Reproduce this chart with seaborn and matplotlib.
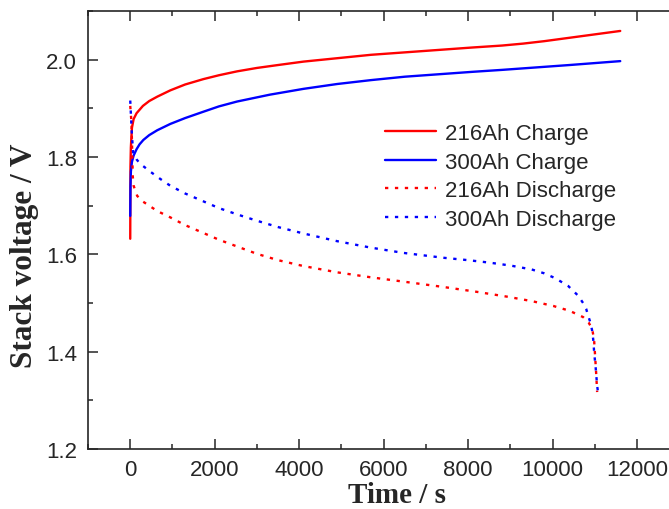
import numpy as np
import pandas as pd
import seaborn as sns
import matplotlib.pyplot as plt
from matplotlib.ticker import MultipleLocator

# values
t_216c = [0, 5, 15, 40, 80, 150, 300, 450, 640, 950, 1300, 1730, 2100, 2530, 3000,
          3500, 4100, 4900, 5700, 6500, 7300, 8100, 8800, 9300, 9800, 10400, 11000, 11600]
v_216c = [1.632, 1.78, 1.82, 1.86, 1.878, 1.890, 1.905, 1.915, 1.924, 1.937, 1.949,
          1.960, 1.968, 1.976, 1.983, 1.989, 1.996, 2.003, 2.010, 2.015, 2.020, 2.025,
          2.029, 2.033, 2.038, 2.045, 2.052, 2.059]

t_300c = [0, 5, 15, 40, 80, 150, 220, 310, 450, 640, 950, 1300, 1730, 2100, 2530,
          3300, 4100, 4900, 5700, 6500, 7300, 8100, 8800, 9600, 10400, 11000, 11600]
v_300c = [1.679, 1.74, 1.77, 1.79, 1.803, 1.816, 1.826, 1.835, 1.845, 1.855, 1.868,
          1.880, 1.893, 1.904, 1.914, 1.928, 1.940, 1.950, 1.958, 1.965, 1.970, 1.975,
          1.979, 1.984, 1.989, 1.993, 1.997]

t_216d = [0, 30, 60, 80, 165, 308, 640, 947, 1300, 1728, 2100, 2533, 3000, 3500,
          4095, 4900, 5680, 6462, 7408, 8200, 8923, 9500, 10012, 10400, 10722, 10850,
          10935, 10980, 11005, 11030, 11053]
v_216d = [1.905, 1.870, 1.760, 1.741, 1.720, 1.708, 1.689, 1.676, 1.660, 1.644, 1.630,
          1.616, 1.601, 1.588, 1.576, 1.563, 1.553, 1.544, 1.533, 1.523, 1.513, 1.504,
          1.494, 1.484, 1.471, 1.460, 1.447, 1.425, 1.391, 1.355, 1.317]

t_300d = [0, 20, 40, 70, 150, 237, 473, 710, 947, 1300, 1728, 2100, 2533, 3000, 3500,
          4095, 4900, 5680, 6462, 7408, 8000, 8500, 9000, 9500, 9800, 10060, 10367,
          10604, 10720, 10793, 10840, 10900, 10935, 10960, 10982, 11020, 11053, 11070]
v_300d = [1.916, 1.880, 1.845, 1.807, 1.795, 1.786, 1.770, 1.755, 1.741, 1.725, 1.709,
          1.695, 1.682, 1.669, 1.656, 1.643, 1.627, 1.614, 1.603, 1.593, 1.588, 1.583,
          1.577, 1.569, 1.561, 1.551, 1.535, 1.515, 1.500, 1.488, 1.474, 1.458, 1.443,
          1.425, 1.399, 1.365, 1.330, 1.319]

labels = ['216Ah Charge', '300Ah Charge', '216Ah Discharge', '300Ah Discharge']

sns.set_style('ticks')
plt.rcParams['font.family'] = ['Liberation Sans', 'DejaVu Sans']

fig = plt.figure(figsize=(6.69, 5.10), dpi=100)
ax = fig.add_axes([88/669, 60/510, 618/669, 438/510])

series = [(t_216c, v_216c, 'red', '-'),
          (t_300c, v_300c, 'blue', '-'),
          (t_216d, v_216d, 'red', (0, (1.4, 2.8))),
          (t_300d, v_300d, 'blue', (0, (1.4, 2.8)))]
for (t, v, c, ls), lab in zip(series, labels):
    df = pd.DataFrame({'t': t, 'v': v})
    sns.lineplot(data=df, x='t', y='v', ax=ax, color=c, linestyle=ls,
                 linewidth=1.7, label=lab, sort=False, estimator=None)

ax.set_xlim(-1000, 13630)
ax.set_ylim(1.2, 2.1)
ax.xaxis.set_minor_locator(MultipleLocator(1000))
ax.yaxis.set_minor_locator(MultipleLocator(0.1))
ax.set_xticks([0, 2000, 4000, 6000, 8000, 10000, 12000])
ax.set_yticks([1.2, 1.4, 1.6, 1.8, 2.0])
ax.set_yticklabels(['1.2', '1.4', '1.6', '1.8', '2.0'])

ax.tick_params(which='major', direction='in', length=7, width=1.1, labelsize=16, pad=8)
ax.tick_params(axis='x', which='major', pad=7)
ax.tick_params(which='minor', direction='in', length=3.8, width=1.1)
ax.tick_params(axis='x', which='both', top=True, labeltop=False)
for side in ['left', 'bottom', 'top']:
    ax.spines[side].set_linewidth(1.2)
ax.spines['right'].set_visible(False)

ax.set_xlabel('Time / s', fontsize=21, fontweight='bold', family='Liberation Serif')
ax.set_ylabel('Stack voltage / V', fontsize=22.5, fontweight='bold', family='Liberation Serif')
ax.xaxis.set_label_coords(0.5, -0.073)
ax.yaxis.set_label_coords(-0.08, 0.443)

ax.legend(loc='upper left', bbox_to_anchor=(385/669, 1 - 124/510), bbox_transform=fig.transFigure,
          frameon=False, fontsize=16, handlelength=2.3, handletextpad=0.4,
          labelspacing=0.34, borderpad=0, borderaxespad=0)

fig.savefig('out.png', dpi=100)
